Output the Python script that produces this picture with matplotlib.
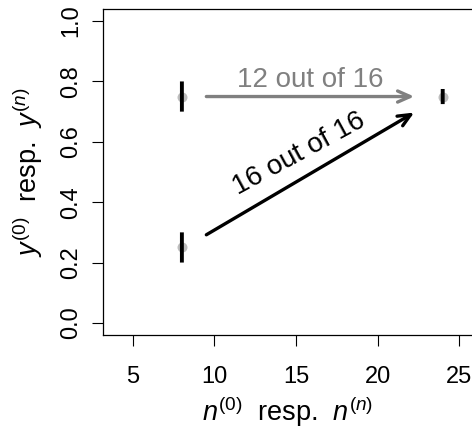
import matplotlib
matplotlib.use("Agg")
import matplotlib.pyplot as plt
from matplotlib.patches import FancyArrowPatch

plt.rcParams['font.family'] = ['Liberation Sans', 'DejaVu Sans']
plt.rcParams['mathtext.fontset'] = 'custom'
plt.rcParams['mathtext.rm'] = 'Liberation Sans'
plt.rcParams['mathtext.it'] = 'Liberation Sans:italic'

# data
point_x = [8, 8, 24]
point_y = [0.75, 0.25, 0.75]
bar_lo = [0.70, 0.20, 0.725]
bar_hi = [0.80, 0.30, 0.775]

gray_arrow = ((9.5, 0.75), (22.25, 0.75))
black_arrow = ((9.5, 0.292), (22.25, 0.697))
gray_label = "12 out of 16"
black_label = "16 out of 16"

xticks = [5, 10, 15, 20, 25]
yticks = [0.0, 0.2, 0.4, 0.6, 0.8, 1.0]

fig = plt.figure(figsize=(4.72, 4.28), dpi=100)
ax = fig.add_axes([103/472, 1-335/428, 369.7/472, (335-9)/428])
ax.set_xlim(3.16, 25.84)
ax.set_ylim(-0.04, 1.04)

ax.plot(point_x, point_y, 'o', color='#BEBEBE', markersize=7.2, markeredgewidth=0, zorder=2)
vl = ax.vlines(point_x, bar_lo, bar_hi, color='black', linewidth=2.8, zorder=3)
vl.set_snap(False)

for (p0, p1), col in [(gray_arrow, '#808080'), (black_arrow, 'black')]:
    a = FancyArrowPatch(p0, p1, arrowstyle='->,head_length=0.45,head_width=0.2',
                        mutation_scale=20, color=col, linewidth=2.4,
                        shrinkA=0, shrinkB=0, zorder=4)
    ax.add_patch(a)

ax.text(15.9, 0.781, gray_label, color='#808080', fontsize=20,
        ha='center', va='baseline')
ax.text(15.4, 0.538, black_label, color='black', fontsize=20,
        ha='center', va='baseline', rotation=28.5, rotation_mode='anchor')

ax.set_xticks(xticks)
ax.set_xticklabels([str(v) for v in xticks])
ax.set_yticks(yticks)
ax.set_yticklabels([f"{v:.1f}" for v in yticks], rotation=90, va='center')
ax.tick_params(axis='x', length=8, width=0.8, pad=14, labelsize=17, direction='out')
ax.tick_params(axis='y', length=8, width=0.8, pad=7, labelsize=17, direction='out')
for s in ax.spines.values():
    s.set_linewidth(0.9)

fig.text(287.5/472, 1-421/428, r"$n^{(0)}$  resp.  $n^{(n)}$", fontsize=19.5,
         ha='center', va='baseline')
fig.text(37/472, 1-172/428, r"$y^{(0)}$  resp.  $y^{(n)}$", fontsize=19.5,
         ha='center', va='baseline', rotation=90, rotation_mode='anchor')

fig.savefig("out.png", dpi=100)
